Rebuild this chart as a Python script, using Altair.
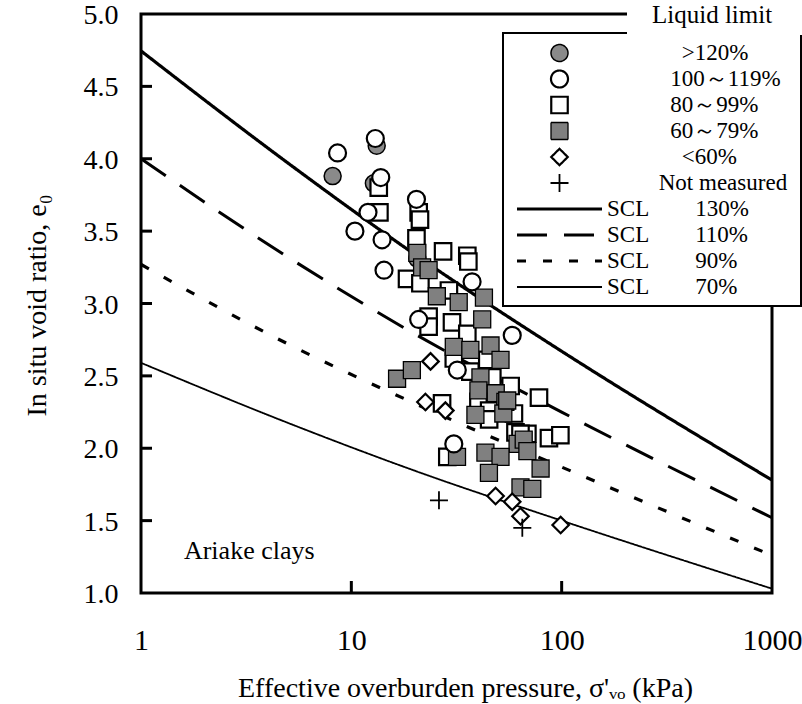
import altair as alt
import pandas as pd

NB = "\u00a0"
ZW = "\u200b"
FONT = "Liberation Serif"

# ---------------- categories ----------------
keys = [">120%", "100～119%", "80～99%", "60～79%", "<60%", "Not measured",
        "SCL 130%", "SCL 110%", "SCL 90%", "SCL 70%"]
legend_labels = [ZW + NB * 13 + ">120%", ZW + NB * 11 + "100～119%", ZW + NB * 11 + "80～99%",
                 ZW + NB * 11 + "60～79%", ZW + NB * 13 + "<60%", ZW + NB * 9 + "Not measured",
                 "SCL" + NB * 8 + "130%", "SCL" + NB * 8 + "110%",
                 "SCL" + NB * 8 + "90%", "SCL" + NB * 8 + "70%"]

# ---------------- data points (sigma'vo kPa, e0) ----------------
gt120_sigma = [13.2, 8.15, 12.8, 20.6]
gt120_e = [4.09, 3.88, 3.83, 3.31]

c100_sigma = [13.0, 8.6, 13.8, 12.0, 10.4, 14.0, 20.4, 14.3, 20.9, 37.5, 58.2, 31.9, 30.7]
c100_e = [4.14, 4.04, 3.87, 3.63, 3.50, 3.44, 3.72, 3.23, 2.89, 3.15, 2.78, 2.54, 2.03]

s80_sigma = [13.5, 13.6, 20.9, 21.2, 20.4, 27.3, 18.4, 21.3, 35.6, 36.0, 29.1, 23.3,
             30.1, 35.6, 23.3, 30.7, 44.3, 36.8, 46.8, 57.2, 78.0, 40.2, 45.2, 45.2,
             59.3, 60.3, 68.7, 87.0, 98.6, 27.0, 28.6, 63.7]
s80_e = [3.80, 3.63, 3.63, 3.58, 3.45, 3.36, 3.17, 3.14, 3.33, 3.29, 3.09, 2.91,
         2.87, 2.79, 2.84, 2.62, 2.61, 2.53, 2.49, 2.43, 2.35, 2.32, 2.26, 2.20,
         2.24, 2.11, 2.10, 2.07, 2.09, 2.31, 1.94, 2.10]

s60_sigma = [20.6, 21.7, 23.3, 25.5, 32.4, 42.7, 41.9, 30.7, 36.8, 45.9, 51.2, 41.1,
             40.2, 48.6, 54.0, 38.9, 52.8, 55.1, 61.7, 16.5, 19.4, 31.8, 43.4, 51.2,
             66.0, 68.7, 45.1, 79.4, 63.7, 72.5]
s60_e = [3.35, 3.25, 3.23, 3.05, 3.01, 3.04, 2.89, 2.70, 2.68, 2.71, 2.61, 2.49,
         2.40, 2.38, 2.32, 2.23, 2.24, 2.33, 2.03, 2.48, 2.54, 1.94, 1.97, 1.94,
         2.06, 1.98, 1.83, 1.86, 1.73, 1.72]

d60_sigma = [23.8, 22.5, 28.0, 48.5, 58.2, 63.7, 98.9]
d60_e = [2.60, 2.32, 2.26, 1.67, 1.63, 1.53, 1.47]

nm_sigma = [26.1, 65.0]
nm_e = [1.64, 1.45]

# ---------------- SCL curves ----------------
scl_sigma = [1, 5, 20, 100, 1000]
scl130 = [4.745, 3.97, 3.34, 2.67, 1.78]
scl110 = [4.00, 3.32, 2.79, 2.25, 1.52]
scl90 = [3.27, 2.72, 2.31, 1.87, 1.26]
scl70 = [2.59, 2.175, 1.845, 1.50, 1.03]

x_ticks = [1, 10, 100, 1000]
y_ticks = [1.0, 1.5, 2.0, 2.5, 3.0, 3.5, 4.0, 4.5, 5.0]
x_inner_ticks = [10, 100]
y_inner_ticks = [1.5, 2.0, 2.5, 3.0, 3.5, 4.0, 4.5]

# ---------------- tables ----------------
groups = [(keys[0], gt120_sigma, gt120_e), (keys[2], s80_sigma, s80_e),
          (keys[3], s60_sigma, s60_e), (keys[1], c100_sigma, c100_e),
          (keys[4], d60_sigma, d60_e), (keys[5], nm_sigma, nm_e)]
pts = pd.concat([pd.DataFrame({"key": k, "sigma": s, "e": e}) for k, s, e in groups],
                ignore_index=True)
lines_df = pd.concat([pd.DataFrame({"key": k, "sigma": scl_sigma, "e": v})
                      for k, v in zip(keys[6:], [scl130, scl110, scl90, scl70])],
                     ignore_index=True)
ytick_df = pd.DataFrame({"e": y_inner_ticks})
xtick_df = pd.DataFrame({"sigma": x_inner_ticks})

W, H = 631, 579

label_expr = " : ".join(f"datum.label == '{k}' ? '{v}'" for k, v in zip(keys, legend_labels)) + " : datum.label"

legend = alt.Legend(title=None, orient="none", legendX=374, legendY=26,
                    labelFont=FONT, labelFontSize=23, labelColor="black",
                    labelOffset=3, clipHeight=26, rowPadding=0, padding=0,
                    labelLimit=400, labelExpr=label_expr)

shapes = ["circle", "circle", "square", "square", "diamond", "M-1,0H1M0,-1V1",
          "stroke", "stroke", "stroke", "stroke"]
fills = ["#8a8a8a", "white", "white", "#808080", "white", "transparent",
         "transparent", "transparent", "transparent", "transparent"]
strokes = ["black"] * 10
sizes = [289, 289, 272, 289, 272, 324, 7225, 7225, 7225, 7225]
widths = [1.5, 2.2, 2.2, 1.3, 2.2, 1.8, 3.2, 3.0, 3.2, 1.8]
dashes = [[1, 0]] * 7 + [[30, 17], [9, 17], [1, 0]]


def oscale(rng):
    return alt.Scale(type="ordinal", domain=keys, range=rng)


x_scale = alt.Scale(type="log", domain=[1, 1000], nice=False)
y_scale = alt.Scale(domain=[1, 5], nice=False, zero=False)

sw_enc = alt.StrokeWidth("key:N", scale=oscale(widths), legend=legend)
st_enc = alt.Stroke("key:N", scale=oscale(strokes), legend=legend)

lines = alt.Chart(lines_df).mark_line(interpolate="monotone").encode(
    x=alt.X("sigma:Q", scale=x_scale,
            axis=alt.Axis(orient="bottom", values=x_ticks, format="d", labelFont=FONT,
                          labelFontSize=30, labelColor="black", labelPadding=47,
                          labelBaseline="middle", labelFlush=False, labelOverlap=False,
                          ticks=False, tickSize=0, domain=False, grid=False,
                          title="Effective overburden pressure, σ'ᵥₒ (kPa)",
                          titleFont=FONT, titleFontSize=28, titleFontWeight="normal",
                          titleColor="black", titleX=324, titleY=95,
                          titleAlign="center", titleBaseline="middle")),
    y=alt.Y("e:Q", scale=y_scale,
            axis=alt.Axis(orient="left", values=y_ticks, format=".1f", labelFont=FONT,
                          labelFontSize=28, labelColor="black", labelPadding=23,
                          labelOffset=1.5,
                          labelFlush=False, labelOverlap=False,
                          ticks=False, tickSize=0, domain=False, grid=False,
                          title="In situ void ratio, e₀", titleFont=FONT,
                          titleFontSize=28, titleFontWeight="normal", titleColor="black",
                          titleX=-104, titleY=291, titleAngle=-90,
                          titleAlign="center", titleBaseline="middle")),
    strokeDash=alt.StrokeDash("key:N", scale=oscale(dashes), legend=legend),
    strokeWidth=sw_enc,
    stroke=st_enc,
)

points = alt.Chart(pts).mark_point(opacity=1).encode(
    x=alt.X("sigma:Q", scale=x_scale, axis=None),
    y=alt.Y("e:Q", scale=y_scale, axis=None),
    shape=alt.Shape("key:N", scale=oscale(shapes), legend=legend),
    fill=alt.Fill("key:N", scale=oscale(fills), legend=legend),
    size=alt.Size("key:N", scale=oscale(sizes), legend=legend),
    strokeWidth=sw_enc,
    stroke=st_enc,
)

# inward tick marks of the frame (drawn as short rules from the scales)
yticks_layer = alt.Chart(ytick_df).mark_rule(stroke="#000000", strokeWidth=3, opacity=1).encode(
    y=alt.Y("e:Q", scale=y_scale, axis=None), x=alt.value(0), x2=alt.value(11))
xticks_layer = alt.Chart(xtick_df).mark_rule(stroke="#000000", strokeWidth=3, opacity=1).encode(
    x=alt.X("sigma:Q", scale=x_scale, axis=None), y=alt.value(H), y2=alt.value(H - 12))

one = pd.DataFrame({"a": [0]})
box = alt.Chart(one).mark_rect(fill="white", stroke="black", strokeWidth=2).encode(
    x=alt.value(362), x2=alt.value(660), y=alt.value(19), y2=alt.value(292))
mask = alt.Chart(one).mark_rect(fill="white", strokeWidth=0).encode(
    x=alt.value(486), x2=alt.value(662), y=alt.value(-14), y2=alt.value(21))
ll_title = alt.Chart(pd.DataFrame({"t": ["Liquid limit"]})).mark_text(
    align="left", baseline="alphabetic", font=FONT, fontSize=25, color="black").encode(
    x=alt.value(511), y=alt.value(9), text="t:N")

ariake = alt.Chart(pd.DataFrame({"sigma": [1.6], "e": [1.29], "t": ["Ariake clays"]})).mark_text(
    align="left", baseline="middle", font=FONT, fontSize=26, color="black").encode(
    x=alt.X("sigma:Q", scale=x_scale, axis=None),
    y=alt.Y("e:Q", scale=y_scale, axis=None),
    text="t:N")

chart = alt.layer(lines, points, yticks_layer, xticks_layer, box, mask, ll_title, ariake).resolve_axis(
    x="independent", y="independent"
).properties(
    width=W, height=H, autosize="none",
    padding={"left": 141, "top": 14, "right": 30, "bottom": 111},
).configure(font=FONT).configure_view(stroke="black", strokeWidth=3)

chart.save("out.html", embed_options={"renderer": "svg", "actions": False})
